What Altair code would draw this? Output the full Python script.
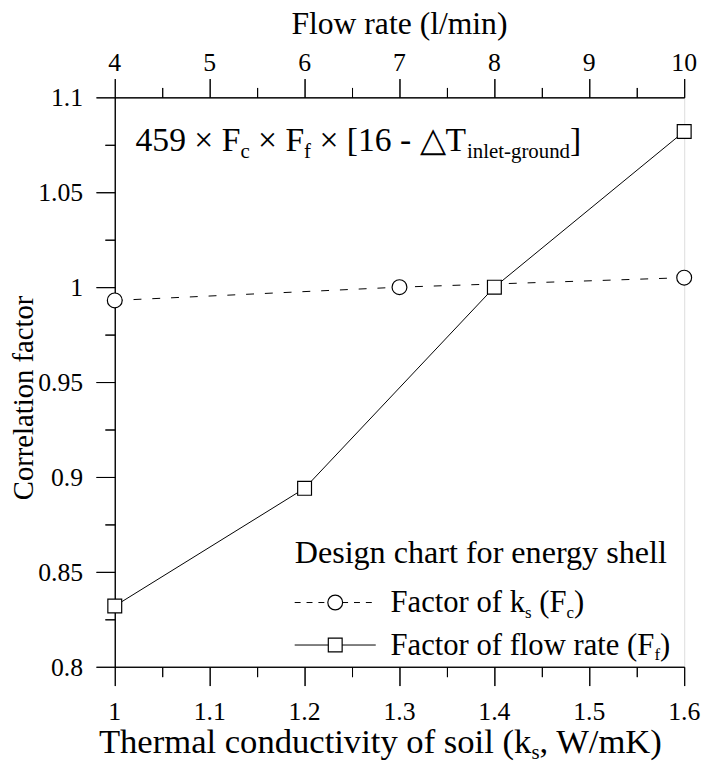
import altair as alt
import pandas as pd

# ---------------- data ----------------
ks = [1.0, 1.3, 1.6]
fc = [0.993, 1.0, 1.005]
flow = [4, 6, 8, 10]
ff = [0.832, 0.894, 1.0, 1.082]

x_ticks = [1.0, 1.05, 1.1, 1.15, 1.2, 1.25, 1.3, 1.35, 1.4, 1.45, 1.5, 1.55, 1.6]
flow_ticks = [4, 4.5, 5, 5.5, 6, 6.5, 7, 7.5, 8, 8.5, 9, 9.5, 10]
y_ticks = [0.8, 0.825, 0.85, 0.875, 0.9, 0.925, 0.95, 0.975, 1.0, 1.025, 1.05, 1.075, 1.1]

x_labels = [1.0, 1.1, 1.2, 1.3, 1.4, 1.5, 1.6]
flow_labels = [4, 5, 6, 7, 8, 9, 10]
y_labels = [0.8, 0.85, 0.9, 0.95, 1.0, 1.05, 1.1]

FONT = "Liberation Serif"
FONT2 = "'Liberation Serif', 'DejaVu Serif', serif"
W, H = 576, 576

# Times / Liberation Serif advance widths (em)
CW = {" ": .25, "(": .333, ")": .333, ",": .25, "-": .333, ".": .25, "/": .278, "[": .333, "]": .333,
      "×": .564, "△": .8,
      "A": .722, "C": .667, "D": .722, "F": .556, "K": .722, "T": .611, "W": .944,
      "a": .444, "b": .5, "c": .444, "d": .5, "e": .444, "f": .333, "g": .5, "h": .5, "i": .278,
      "k": .5, "l": .278, "m": .778, "n": .5, "o": .5, "r": .333, "s": .389, "t": .278, "u": .5,
      "v": .5, "w": .722, "y": .5}


def tw(s, fs):
    return sum(CW.get(ch, 0.5) for ch in s) * fs


def pieces(parts, x0, y0, fs, sub=0.62, drop=0.22, anchor="left"):
    rows, x = [], x0
    for text, kind in parts:
        f = fs if kind == "n" else fs * sub
        dy = 0 if kind == "n" else fs * drop
        lead = len(text) - len(text.lstrip(" "))
        x += tw(" " * lead, f)
        core = text.strip(" ")
        rows.append({"t": core, "px": x, "py": y0 + dy, "fs": f})
        x += tw(text.lstrip(" "), f)
    if anchor == "center":
        shift = (x - x0) / 2
        for r in rows:
            r["px"] -= shift
    return rows


def text_layer(rows, angle=0, font=FONT):
    return alt.Chart(pd.DataFrame(rows)).mark_text(
        align="left", baseline="alphabetic", font=font, color="black", angle=angle,
        fontWeight="normal", fontStyle="normal"
    ).encode(
        x=alt.X("px:Q", scale=None, axis=None),
        y=alt.Y("py:Q", scale=None, axis=None),
        text="t:N",
        size=alt.Size("fs:Q", scale=None, legend=None),
    )


def major(mult):
    return f"abs(datum.value*{mult} - round(datum.value*{mult})) < 0.001"


df_c = pd.DataFrame({"ks": ks, "fc": fc})
df_f = pd.DataFrame({"flow": flow, "ff": ff})

xs_scale = dict(domain=[1.0, 1.6], zero=False, nice=False)
fl_scale = dict(domain=[4, 10], zero=False, nice=False)
y_scale = dict(domain=[0.8, 1.1], zero=False, nice=False)
common = dict(grid=False, labels=False, title=None, tickColor="black", domainColor="black")

base_c = alt.Chart(df_c).encode(
    x=alt.X("ks:Q", scale=alt.Scale(**xs_scale),
            axis=alt.Axis(orient="bottom", values=x_ticks,
                          tickSize={"condition": {"test": major(10), "value": 19}, "value": 10},
                          **common)),
    y=alt.Y("fc:Q", scale=alt.Scale(**y_scale),
            axis=alt.Axis(orient="left", values=y_ticks,
                          tickSize={"condition": {"test": major(20), "value": 19}, "value": 10},
                          **common)),
)
line_c = base_c.mark_line(color="black", strokeWidth=1, strokeDash=[8, 11])
pts_c = base_c.mark_point(shape="circle", size=225, filled=True, fill="white",
                          stroke="black", strokeWidth=1.2, opacity=1)

base_f = alt.Chart(df_f).encode(
    x=alt.X("flow:Q", scale=alt.Scale(**fl_scale),
            axis=alt.Axis(orient="top", values=flow_ticks,
                          tickSize={"condition": {"test": major(1), "value": 19}, "value": 10},
                          **common)),
    y=alt.Y("ff:Q", scale=alt.Scale(**y_scale), axis=None),
)
line_f = base_f.mark_line(color="black", strokeWidth=1)
pts_f = base_f.mark_point(shape="square", size=196, filled=True, fill="white",
                          stroke="black", strokeWidth=1.2, opacity=1)

# ---------------- tick labels placed through the scales ----------------
LFS = 26


def fmt(v):
    return f"{v:g}"


bottom_df = pd.DataFrame({"v": x_labels, "t": [fmt(v) for v in x_labels],
                          "py": [630] * len(x_labels), "fs": [LFS] * len(x_labels)})
top_df = pd.DataFrame({"v": flow_labels, "t": [fmt(v) for v in flow_labels],
                       "py": [-27] * len(flow_labels), "fs": [LFS] * len(flow_labels)})
left_df = pd.DataFrame({"v": y_labels, "t": [fmt(v) for v in y_labels],
                        "px": [-32] * len(y_labels), "fs": [LFS] * len(y_labels)})

lab_mark = dict(baseline="alphabetic", font=FONT2, color="black", fontWeight="normal", fontStyle="normal")
bottom_labels = alt.Chart(bottom_df).mark_text(align="center", **lab_mark).encode(
    x=alt.X("v:Q", scale=alt.Scale(**xs_scale), axis=None),
    y=alt.Y("py:Q", scale=None, axis=None),
    text="t:N", size=alt.Size("fs:Q", scale=None, legend=None))
top_labels = alt.Chart(top_df).mark_text(align="center", **lab_mark).encode(
    x=alt.X("v:Q", scale=alt.Scale(**fl_scale), axis=None),
    y=alt.Y("py:Q", scale=None, axis=None),
    text="t:N", size=alt.Size("fs:Q", scale=None, legend=None))
left_labels = alt.Chart(left_df).mark_text(align="right", dy=9, **lab_mark).encode(
    x=alt.X("px:Q", scale=None, axis=None),
    y=alt.Y("v:Q", scale=alt.Scale(**y_scale), axis=None),
    text="t:N", size=alt.Size("fs:Q", scale=None, legend=None))

# ---------------- titles, annotation, legend text ----------------
top_title = pieces([("Flow rate (l/min)", "n")], 288, -64, 32, anchor="center")
y_title = [{"t": "Correlation factor", "px": -83, "py": 304 + tw("Correlation factor", 29) / 2, "fs": 29}]
ann = pieces([("459 × F", "n"), ("c", "s"), (" × F", "n"), ("f", "s"),
              (" × [16 - △T", "n"), ("inlet-ground", "s"), ("]", "n")],
             21, 54, 34, sub=0.62, drop=0.22)
xtitle = pieces([("Thermal conductivity of soil (k", "n"), ("s", "s"), (", W/mK)", "n")],
                269, 663, 35, sub=0.6, drop=0.18, anchor="center")
leg_title = pieces([("Design chart for energy shell", "n")], 182, 471, 32.5)
leg1 = pieces([("Factor of k", "n"), ("s", "s"), (" (F", "n"), ("c", "s"), (")", "n")],
              279, 521, 31, sub=0.55, drop=0.18)
leg2 = pieces([("Factor of flow rate (F", "n"), ("f", "s"), (")", "n")],
              279, 564, 31, sub=0.55, drop=0.18)

texts = text_layer(ann + xtitle + leg_title + leg1 + leg2)
ttext = text_layer(top_title, font=FONT2)
ytext = text_layer(y_title, angle=270, font=FONT2)

leg_lines = pd.DataFrame({"x1": [182, 182], "x2": [264, 264], "y": [511, 554],
                          "kind": ["dash", "solid"]})
leg_rule_d = alt.Chart(leg_lines[leg_lines.kind == "dash"]).mark_rule(
    color="black", strokeWidth=1, strokeDash=[6, 6]).encode(
    x=alt.X("x1:Q", scale=None, axis=None), x2="x2:Q", y=alt.Y("y:Q", scale=None, axis=None))
leg_rule_s = alt.Chart(leg_lines[leg_lines.kind == "solid"]).mark_rule(
    color="black", strokeWidth=1).encode(
    x=alt.X("x1:Q", scale=None, axis=None), x2="x2:Q", y=alt.Y("y:Q", scale=None, axis=None))
leg_pt_c = alt.Chart(leg_lines[leg_lines.kind == "dash"]).mark_point(
    shape="circle", size=225, filled=True, fill="white", stroke="black", strokeWidth=1.2, opacity=1
).encode(x=alt.value(223), y=alt.Y("y:Q", scale=None, axis=None))
leg_pt_f = alt.Chart(leg_lines[leg_lines.kind == "solid"]).mark_point(
    shape="square", size=196, filled=True, fill="white", stroke="black", strokeWidth=1.2, opacity=1
).encode(x=alt.value(223), y=alt.Y("y:Q", scale=None, axis=None))

chart = alt.layer(
    line_c, pts_c, line_f, pts_f, bottom_labels, top_labels, left_labels,
    texts, ttext, ytext, leg_rule_d, leg_rule_s, leg_pt_c, leg_pt_f
).resolve_scale(x="independent", y="independent").properties(
    width=W, height=H,
    autosize=alt.AutoSizeParams(type="none"),
    padding={"left": 108, "top": 86, "right": 17, "bottom": 97},
).configure_view(stroke="black", strokeWidth=1).configure_axis(
    tickWidth=1, domainWidth=1, grid=False,
).configure(background="white", font=FONT)

chart.save("out.html", embed_options={"renderer": "svg", "actions": False})
